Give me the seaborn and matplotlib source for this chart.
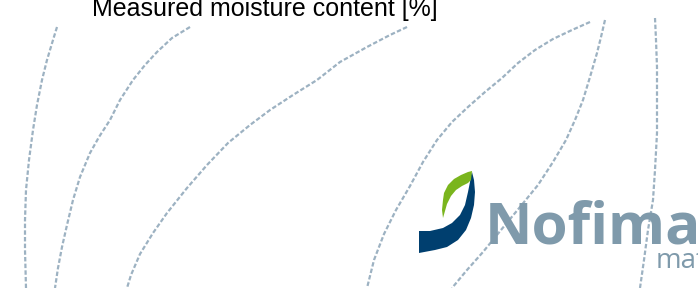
import matplotlib
matplotlib.use('Agg')
import matplotlib.pyplot as plt
import pandas as pd
import seaborn as sns

# decorative arcs (slide background), pixel space, y grows downward
arc1_x = [57, 53, 47, 42, 37, 33, 29, 26, 25, 25, 26]
arc1_y = [27, 40, 60, 80, 105, 130, 160, 190, 220, 250, 288]
arc2_x = [190, 172, 157, 145, 133, 120, 110, 99, 90, 80, 73, 67, 62, 58, 55]
arc2_y = [27, 38, 52, 65, 80, 100, 120, 137, 153, 177, 200, 225, 247, 268, 288]
arc3_x = [407, 390, 367, 340, 317, 293, 270, 250, 228, 207, 187, 167, 153, 140, 131, 127]
arc3_y = [27, 35, 47, 62, 80, 95, 110, 125, 143, 165, 188, 213, 233, 254, 275, 288]
arc4_x = [590, 572, 553, 535, 518, 502, 485, 468, 452, 437, 423, 410, 396, 384, 374, 367]
arc4_y = [22, 30, 39, 50, 63, 78, 92, 107, 122, 140, 162, 186, 210, 234, 260, 288]
arc5_x = [605, 601, 597, 590, 583, 575, 566, 553, 538, 520, 501, 483, 467, 452]
arc5_y = [20, 37, 53, 77, 100, 120, 140, 162, 185, 207, 230, 252, 270, 288]
arc6_x = [655, 656, 657, 657, 657, 655, 653, 648, 644, 640]
arc6_y = [18, 40, 67, 100, 133, 170, 200, 230, 260, 288]

# logo outline
navy_x = [419, 430, 443, 452, 460, 465, 468, 470, 471, 472, 474, 475, 474, 471, 466, 458, 447, 435, 419]
navy_y = [231, 231, 228, 223, 215, 205, 192, 182, 175, 172, 180, 192, 205, 218, 230, 240, 247, 250, 253]
leaf_x = [443, 442, 443, 444, 448, 454, 461, 468, 472, 471, 468, 462, 456, 451, 447, 445, 443]
leaf_y = [218, 210, 200, 193, 185, 179, 175, 172, 171, 180, 183, 186, 190, 196, 204, 211, 218]

title = 'Measured moisture content [%]'
brand = 'Nofima'
sub_brand = 'mat'

arcs = [(arc1_x, arc1_y), (arc2_x, arc2_y), (arc3_x, arc3_y),
        (arc4_x, arc4_y), (arc5_x, arc5_y), (arc6_x, arc6_y)]
rows = []
for i, (xs, ys) in enumerate(arcs):
    for k in range(len(xs)):
        rows.append({'arc': i, 'order': k, 'x': xs[k], 'y': ys[k]})
df = pd.DataFrame(rows)

sns.set_style('white')
plt.rcParams['font.family'] = ['Liberation Sans', 'DejaVu Sans']

fig = plt.figure(figsize=(6.98, 2.88), dpi=100)
ax = fig.add_axes([0, 0, 1, 1])

sns.lineplot(data=df, x='x', y='y', units='arc', estimator=None, sort=False,
             color='#9db2c2', lw=1.6, linestyle=(0, (2, 1)), ax=ax)

ax.fill(navy_x, navy_y, color='#003f6f', lw=0)
ax.fill(leaf_x, leaf_y, color='#7ab51d', lw=0)

ax.text(485, 243, brand, fontsize=42, fontweight='bold', color='#7f9aab',
        va='baseline', family='Open Sans')
ax.text(656, 268, sub_brand, fontsize=20, color='#7f9aab', va='baseline', family='Open Sans')
ax.text(92, 16, title, fontsize=18, color='black', va='baseline')

ax.set_xlim(0, 698)
ax.set_ylim(288, 0)
ax.axis('off')

fig.savefig('out.png', dpi=100)
